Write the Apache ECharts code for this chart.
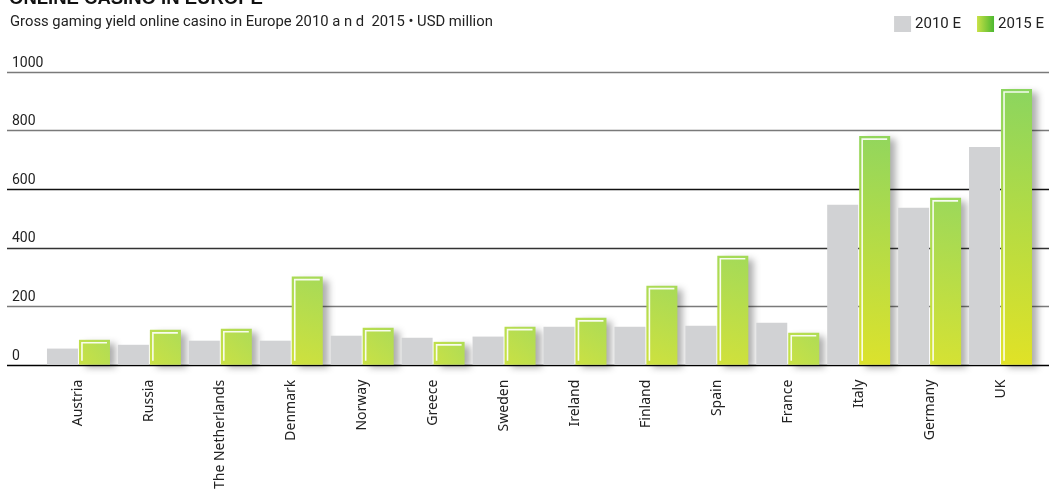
<!DOCTYPE html>
<html>
<head>
<meta charset="utf-8">
<style>
html,body{margin:0;padding:0;background:#fff;}
#chart{width:1049px;height:492px;}
</style>
<script src="https://cdn.jsdelivr.net/npm/echarts@6/dist/echarts.min.js"></script>
</head>
<body>
<div id="chart"></div>
<script>
const categories = ['Austria','Russia','The Netherlands','Denmark','Norway','Greece','Sweden','Ireland','Finland','Spain','France','Italy','Germany','UK'];
const values2010 = [55, 68, 82, 82, 99, 92, 96, 130, 130, 133, 143, 546, 536, 744];
const values2015 = [85, 119, 123, 301, 126, 78, 130, 160, 270, 372, 109, 781, 570, 942];
const yTicks = [0, 200, 400, 600, 800, 1000];

function hex(c){return [parseInt(c.slice(1,3),16),parseInt(c.slice(3,5),16),parseInt(c.slice(5,7),16)];}
function mix(a,b,t){const A=hex(a),B=hex(b);return 'rgb('+A.map((v,i)=>Math.round(v+(B[i]-v)*t)).join(',')+')';}
function greenFill(v){
  const t=Math.min(1,Math.max(0,(v-60)/880));
  return new echarts.graphic.LinearGradient(0,1,1,0,[
    {offset:0,color:mix('#c8e146','#e1e226',t)},
    {offset:1,color:mix('#b0dc56','#8bd55f',t)}
  ]);
}

const chart = echarts.init(document.getElementById('chart'));
const FONT = 'Roboto';
const gridTop = 72, gridH = 293;

chart.setOption({
  animation:false,
  title:[
    {text:'ONLINE CASINO IN EUROPE',left:4,top:-16,textStyle:{fontFamily:'Liberation Sans',fontWeight:'bold',fontSize:18.5,color:'#111'}},
    {text:'Gross gaming yield online casino in Europe 2010 a n d  2015 \u2022 USD million',left:5,top:10,textStyle:{fontFamily:FONT,fontWeight:'normal',fontSize:14.8,color:'#222'}}
  ],
  legend:{
    data:['2010 E','2015 E'],right:0,top:11,itemWidth:17,itemHeight:16,itemGap:16,icon:'rect',
    textStyle:{fontFamily:FONT,fontSize:15,color:'#222',padding:[0,0,0,-1]}
  },
  grid:[
    {left:7,right:0,top:gridTop,height:gridH},
    {left:43,right:13,top:gridTop,height:gridH}
  ],
  xAxis:[
    {gridIndex:0,type:'value',show:false,min:0,max:1},
    {gridIndex:1,type:'category',data:categories,
      axisLine:{show:false},axisTick:{show:false},
      axisLabel:{rotate:90,interval:0,margin:15,fontFamily:'Noto Sans',fontSize:14,color:'#222'}}
  ],
  yAxis:[
    {gridIndex:0,type:'value',min:0,max:1000,interval:200,
      axisLine:{show:false},axisTick:{show:false},
      axisLabel:{inside:true,margin:5,verticalAlign:'bottom',padding:[0,0,2,0],fontFamily:FONT,fontSize:14,color:'#222',
        formatter:function(v){return yTicks.indexOf(v)>=0?String(v):'';}},
      splitLine:{show:true,lineStyle:{width:1.3,color:['#000','#7a7a7a','#333','#111','#7a7a7a','#7a7a7a']}}},
    {gridIndex:1,type:'value',min:0,max:1000,interval:200,show:false,splitLine:{show:false}}
  ],
  series:[
    {name:'2010 E',type:'bar',xAxisIndex:1,yAxisIndex:1,barWidth:31,barGap:'3.2%',z:4,
      itemStyle:{color:'#d1d2d4'},data:values2010},
    {name:'2015 E',type:'bar',xAxisIndex:1,yAxisIndex:1,barWidth:31,barGap:'3.2%',z:2,
      itemStyle:{color:new echarts.graphic.LinearGradient(0,0,1,0,[{offset:0,color:'#c8e146'},{offset:1,color:'#4cb830'}]),
        shadowColor:'rgba(0,0,0,0.32)',shadowBlur:7,shadowOffsetX:6,shadowOffsetY:3},
      data:values2015.map(v=>({value:v,itemStyle:{color:greenFill(v)}}))},
    {name:'hl',type:'custom',xAxisIndex:1,yAxisIndex:1,z:5,silent:true,
      data:values2015.map((v,i)=>[i,v]),
      renderItem:function(params,api){
        const p=api.coord([api.value(0),api.value(1)]);
        const b=api.coord([api.value(0),0]);
        const x0=p[0]+0.5, x1=x0+31;
        return {type:'polyline',shape:{points:[[x0+3,b[1]-4],[x0+3,p[1]+3],[x1-3,p[1]+3]]},
          style:{stroke:'rgba(255,255,255,0.9)',lineWidth:1.6,fill:null}};
      }}
  ]
});
</script>
</body>
</html>
